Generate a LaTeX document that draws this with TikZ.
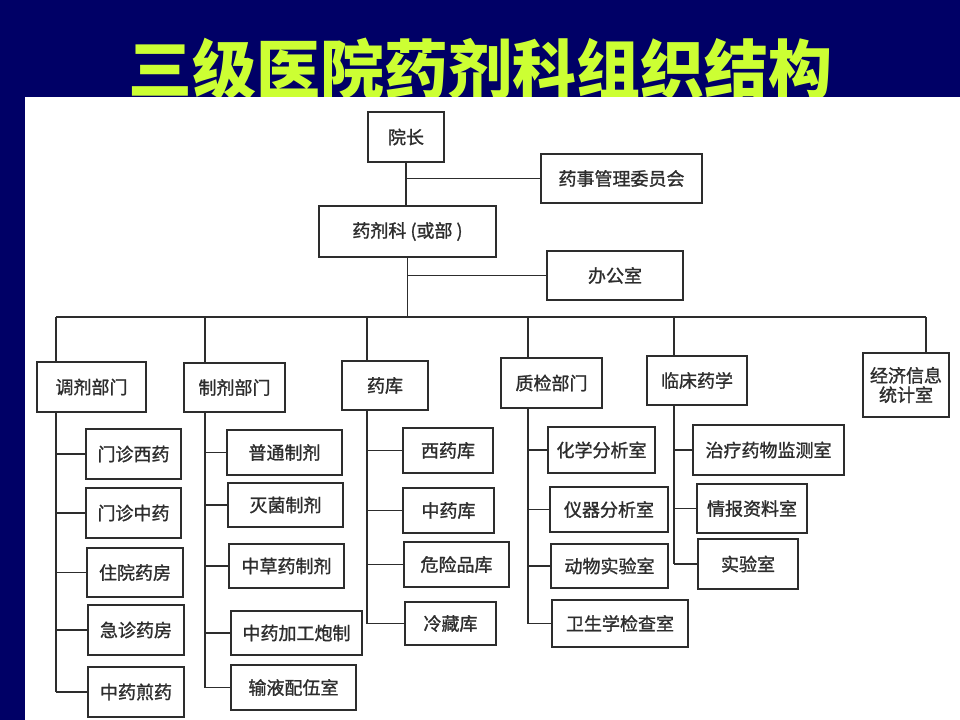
\documentclass[tikz,border=0pt]{standalone}
\usepackage{fontspec}
\newfontfamily\cjk{Noto Sans CJK SC}
\newfontfamily\cjkscan[FakeBold=1.2]{Noto Sans CJK SC}
\definecolor{slidebg}{RGB}{0,0,102}
\definecolor{titlegreen}{RGB}{204,255,51}
\definecolor{scanink}{RGB}{45,45,45}

\tikzset{every picture/.style={line width=0.75pt}}
\tikzset{
  unit/.style={draw=scanink, line width=1.2pt, fill=white, text=scanink, inner sep=0pt,
    font=\cjkscan\fontsize{13.5}{15}\selectfont, align=center},
  link/.style={draw=scanink, line width=1pt},
}

\begin{document}
\begin{tikzpicture}[x=0.75pt,y=0.75pt,yscale=-1,xscale=1]
\useasboundingbox (0,0) rectangle (960,720);

%Shape: Rectangle [slide background]
\fill[slidebg] (0,0) rectangle (960,720);
% Text Node [title]
\node[text=titlegreen, inner sep=0pt, font=\cjk\bfseries\fontsize{48}{52}\selectfont] (title) at (480,69) {三级医院药剂科组织结构};
%Shape: Rectangle [scanned sheet]
\fill[white] (25,97) rectangle (960,720);

% Text Node [top]
\node[unit, minimum width=57pt, minimum height=37.5pt] (yz) at (406,137) {院长};
\node[unit, minimum width=120.75pt, minimum height=36.75pt] (ysh) at (621.5,178.5) {药事管理委员会};
\node[unit, minimum width=132.75pt, minimum height=38.25pt] (yjk) at (407.5,231.5) {药剂科 (或部 )};
\node[unit, minimum width=102pt, minimum height=36.75pt] (bgs) at (615,275.5) {办公室};

% Text Node [departments]
\node[unit, minimum width=81.75pt, minimum height=37.5pt, line width=1.6pt] (tj) at (91.5,387) {调剂部门};
\node[unit, minimum width=75.75pt, minimum height=36.75pt] (zj) at (234.5,387.5) {制剂部门};
\node[unit, minimum width=64.5pt, minimum height=36.75pt] (yk) at (385,385.5) {药库};
\node[unit, minimum width=75.75pt, minimum height=37.5pt] (zl) at (551.5,383) {质检部门};
\node[unit, minimum width=75pt, minimum height=36.75pt] (lc) at (697,380.5) {临床药学};
\node[unit, minimum width=64.5pt, minimum height=48pt, font=\cjkscan\fontsize{13.5}{14.5}\selectfont] (jj) at (906,385) {经济信息\\统计室};

% Text Node [调剂]
\node[unit, minimum width=71.25pt, minimum height=37.5pt] (tj1) at (133.5,454) {门诊西药};
\node[unit, minimum width=71.25pt, minimum height=37.5pt] (tj2) at (133.5,513) {门诊中药};
\node[unit, minimum width=72pt, minimum height=36.75pt] (tj3) at (135,572.5) {住院药房};
\node[unit, minimum width=72pt, minimum height=37.5pt] (tj4) at (136,630) {急诊药房};
\node[unit, minimum width=72pt, minimum height=37.5pt] (tj5) at (136,692) {中药煎药};

% Text Node [制剂]
\node[unit, minimum width=86.25pt, minimum height=33.75pt] (zj1) at (284.5,452.5) {普通制剂};
\node[unit, minimum width=86.25pt, minimum height=33pt] (zj2) at (285.5,505) {灭菌制剂};
\node[unit, minimum width=86.25pt, minimum height=33pt] (zj3) at (286.5,566) {中草药制剂};
\node[unit, minimum width=98.25pt, minimum height=33pt] (zj4) at (296.5,633) {中药加工炮制};
\node[unit, minimum width=93.75pt, minimum height=33.75pt] (zj5) at (293.5,687.5) {输液配伍室};

% Text Node [药库]
\node[unit, minimum width=67.5pt, minimum height=33.75pt] (yk1) at (448,450.5) {西药库};
\node[unit, minimum width=68.25pt, minimum height=33.75pt] (yk2) at (448.5,510.5) {中药库};
\node[unit, minimum width=78.75pt, minimum height=33.75pt] (yk3) at (456.5,564.5) {危险品库};
\node[unit, minimum width=68.25pt, minimum height=32.25pt] (yk4) at (450.5,623.5) {冷藏库};

% Text Node [质检]
\node[unit, minimum width=80.25pt, minimum height=34.5pt] (zl1) at (601.5,450) {化学分析室};
\node[unit, minimum width=88.5pt, minimum height=33.75pt] (zl2) at (609,509.5) {仪器分析室};
\node[unit, minimum width=87.75pt, minimum height=33pt] (zl3) at (609.5,566) {动物实验室};
\node[unit, minimum width=102pt, minimum height=35.25pt] (zl4) at (620,623.5) {卫生学检查室};

% Text Node [临床]
\node[unit, minimum width=113.25pt, minimum height=37.5pt] (lc1) at (768.5,450) {治疗药物监测室};
\node[unit, minimum width=82.5pt, minimum height=36.75pt] (lc2) at (752,508.5) {情报资料室};
\node[unit, minimum width=75pt, minimum height=37.5pt] (lc3) at (748,564) {实验室};

%Straight Lines [top]
\draw[link] (yz) -- (yz |- yjk.north);
\draw[link] (yz.south |- ysh.west) -- (ysh.west);
\draw[link] (yjk.south |- bgs.west) -- (bgs.west);

%Straight Lines [bus]
\coordinate (tjx) at (56,317);
\coordinate (zjx) at (205,317);
\coordinate (ykx) at (367,317);
\coordinate (zlx) at (528,317);
\coordinate (lcx) at (674,317);
\coordinate (jjx) at (926,317);
\draw[link] (yjk) -- (yjk.south |- tjx);
\draw[link] (tjx) -- (jjx);
\draw[link] (tjx) -- (tjx |- tj.north);
\draw[link] (zjx) -- (zjx |- zj.north);
\draw[link] (ykx) -- (ykx |- yk.north);
\draw[link] (zlx) -- (zlx |- zl.north);
\draw[link] (lcx) -- (lcx |- lc.north);
\draw[link] (jjx) -- (jjx |- jj.north);

%Straight Lines [调剂]
\draw[link] (tjx |- tj.south) -- (tjx |- tj5.west);
\draw[link] (tjx |- tj1.west) -- (tj1.west);
\draw[link] (tjx |- tj2.west) -- (tj2.west);
\draw[link] (tjx |- tj3.west) -- (tj3.west);
\draw[link] (tjx |- tj4.west) -- (tj4.west);
\draw[link] (tjx |- tj5.west) -- (tj5.west);

%Straight Lines [制剂]
\draw[link] (zjx |- zj.south) -- (zjx |- zj5.west);
\draw[link] (zjx |- zj1.west) -- (zj1.west);
\draw[link] (zjx |- zj2.west) -- (zj2.west);
\draw[link] (zjx |- zj3.west) -- (zj3.west);
\draw[link] (zjx |- zj4.west) -- (zj4.west);
\draw[link] (zjx |- zj5.west) -- (zj5.west);

%Straight Lines [药库]
\draw[link] (ykx |- yk.south) -- (ykx |- yk4.west);
\draw[link] (ykx |- yk1.west) -- (yk1.west);
\draw[link] (ykx |- yk2.west) -- (yk2.west);
\draw[link] (ykx |- yk3.west) -- (yk3.west);
\draw[link] (ykx |- yk4.west) -- (yk4.west);

%Straight Lines [质检]
\draw[link] (zlx |- zl.south) -- (zlx |- zl4.west);
\draw[link] (zlx |- zl1.west) -- (zl1.west);
\draw[link] (zlx |- zl2.west) -- (zl2.west);
\draw[link] (zlx |- zl3.west) -- (zl3.west);
\draw[link] (zlx |- zl4.west) -- (zl4.west);

%Straight Lines [临床]
\draw[link] (lcx |- lc.south) -- (lcx |- lc3.west);
\draw[link] (lcx |- lc1.west) -- (lc1.west);
\draw[link] (lcx |- lc2.west) -- (lc2.west);
\draw[link] (lcx |- lc3.west) -- (lc3.west);

\end{tikzpicture}
\end{document}
